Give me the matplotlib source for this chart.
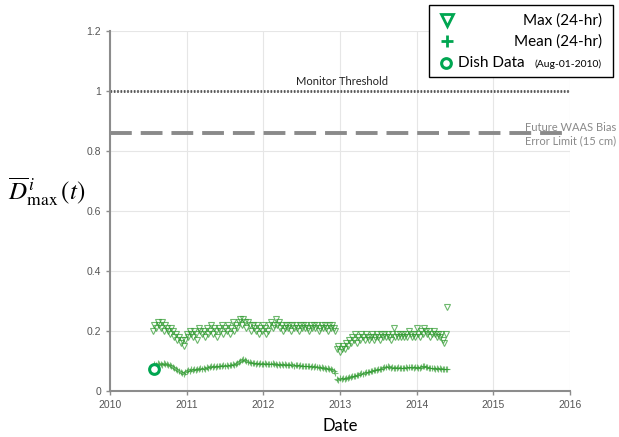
import numpy as np
import matplotlib
matplotlib.use('Agg')
import matplotlib.pyplot as plt
from matplotlib.lines import Line2D
from matplotlib.patches import Rectangle

plt.rcParams['mathtext.fontset'] = 'stix'
plt.rcParams['font.family'] = ['Lato', 'DejaVu Sans']

# 24-hr statistics, one sample every 0.02 yr starting mid 2010
start_year = 2010.56
step_year = 0.02
max_24hr = [
    0.20, 0.22, 0.21, 0.23, 0.22, 0.21, 0.23, 0.20, 0.22, 0.21, 0.20,
    0.19, 0.21, 0.20, 0.18, 0.19, 0.17, 0.18, 0.16, 0.17, 0.15, 0.17,
    0.19, 0.18, 0.20, 0.19, 0.18, 0.20, 0.19, 0.17, 0.21, 0.20, 0.19,
    0.20, 0.18, 0.21, 0.19, 0.20, 0.22, 0.19, 0.21, 0.20, 0.18, 0.21,
    0.20, 0.22, 0.19, 0.21, 0.20, 0.22, 0.19, 0.21, 0.23, 0.20, 0.22,
    0.21, 0.23, 0.24, 0.22, 0.24, 0.23, 0.21, 0.23, 0.22, 0.20, 0.22,
    0.21, 0.20, 0.22, 0.19, 0.21, 0.20, 0.22, 0.21, 0.19, 0.20, 0.22,
    0.23, 0.21, 0.22, 0.24, 0.22, 0.23, 0.21, 0.22, 0.20, 0.21, 0.22,
    0.21, 0.22, 0.20, 0.22, 0.21, 0.22, 0.21, 0.20, 0.22, 0.21, 0.22,
    0.21, 0.22, 0.21, 0.20, 0.22, 0.21, 0.22, 0.21, 0.22, 0.20, 0.21,
    0.22, 0.21, 0.22, 0.21, 0.20, 0.22, 0.21, 0.22, 0.21, 0.20,
    0.14, 0.15, 0.13, 0.14, 0.15, 0.14, 0.16, 0.15, 0.17, 0.16, 0.18,
    0.17, 0.19, 0.16, 0.18, 0.17, 0.19, 0.18, 0.17, 0.19, 0.18, 0.17,
    0.18, 0.19, 0.17, 0.18, 0.19, 0.18, 0.17, 0.19, 0.18, 0.19, 0.18,
    0.19, 0.18, 0.17, 0.19, 0.21, 0.18, 0.19, 0.18, 0.19, 0.18, 0.19,
    0.18, 0.19, 0.18, 0.20, 0.19, 0.18, 0.19, 0.18, 0.21, 0.19, 0.18,
    0.20, 0.19, 0.21, 0.20, 0.19, 0.20, 0.18, 0.19, 0.20, 0.19, 0.18,
    0.19, 0.18, 0.19, 0.17, 0.16, 0.19, 0.28]
mean_24hr = [
    0.085, 0.090, 0.087, 0.092, 0.089, 0.091, 0.088, 0.092, 0.089, 0.090, 0.087,
    0.086, 0.084, 0.080, 0.078, 0.074, 0.070, 0.066, 0.062, 0.060, 0.058, 0.062,
    0.066, 0.070, 0.068, 0.072, 0.070, 0.073, 0.071, 0.075, 0.073, 0.076, 0.074,
    0.077, 0.075, 0.079, 0.078, 0.080, 0.082, 0.080, 0.083, 0.081, 0.084, 0.083,
    0.085, 0.083, 0.086, 0.084, 0.087, 0.085, 0.088, 0.086, 0.089, 0.088, 0.091,
    0.093, 0.096, 0.099, 0.102, 0.106, 0.104, 0.101, 0.098, 0.096, 0.094, 0.092,
    0.093, 0.091, 0.092, 0.090, 0.093, 0.091, 0.089, 0.092, 0.090, 0.091, 0.089,
    0.090, 0.092, 0.089, 0.091, 0.088, 0.090, 0.087, 0.089, 0.088, 0.090, 0.087,
    0.088, 0.086, 0.089, 0.087, 0.085, 0.087, 0.086, 0.084, 0.086, 0.085, 0.083,
    0.085, 0.083, 0.082, 0.084, 0.081, 0.083, 0.080, 0.082, 0.079, 0.081, 0.078,
    0.079, 0.077, 0.078, 0.075, 0.076, 0.074, 0.073, 0.071, 0.068, 0.060,
    0.040, 0.038, 0.042, 0.040, 0.043, 0.041, 0.045, 0.044, 0.047, 0.046, 0.049,
    0.051, 0.050, 0.054, 0.055, 0.057, 0.059, 0.058, 0.061, 0.063, 0.062, 0.065,
    0.067, 0.066, 0.069, 0.071, 0.070, 0.073, 0.075, 0.074, 0.077, 0.079, 0.081,
    0.082, 0.080, 0.078, 0.079, 0.077, 0.078, 0.076, 0.079, 0.077, 0.078, 0.076,
    0.077, 0.079, 0.078, 0.080, 0.079, 0.081, 0.078, 0.080, 0.079, 0.077, 0.078,
    0.080, 0.082, 0.084, 0.081, 0.079, 0.077, 0.078, 0.076, 0.077, 0.075, 0.076,
    0.074, 0.076, 0.073, 0.075, 0.074, 0.073, 0.074]
dish_year = [2010.58]
dish_value = [0.075]

monitor_threshold = 1.0
waas_bias_limit = 0.86

year_ticks = [2010, 2011, 2012, 2013, 2014, 2015, 2016]
d_ticks = [0, 0.2, 0.4, 0.6, 0.8, 1, 1.2]
d_tick_labels = ['0', '0.2', '0.4', '0.6', '0.8', '1', '1.2']

years = start_year + step_year * np.arange(len(max_24hr))

W, H = 619, 437


def px(x, y):
    # pixel position (from top left) -> figure fraction
    return x / W, 1 - y / H


fig = plt.figure(figsize=(W / 100, H / 100), dpi=100)
ax = fig.add_axes([110 / W, 1 - 391 / H, 460 / W, 360 / H])

green = '#2f9a2f'
ax.plot(years, max_24hr, linestyle='none', marker='v', markersize=5,
        markerfacecolor='none', markeredgecolor=green, markeredgewidth=0.8,
        alpha=0.7)
ax.plot(years, mean_24hr, linestyle='none', marker='+', markersize=4.5,
        color=green, markeredgewidth=0.8, alpha=0.65)
ax.plot(dish_year, dish_value, linestyle='none', marker='o', markersize=7,
        markerfacecolor='white', markeredgecolor='#00a651', markeredgewidth=2.2)

ax.axhline(monitor_threshold, color='#555555', lw=2, linestyle=(0, (0.6, 0.6)))
ax.axhline(waas_bias_limit, color='#8a8a8a', lw=2.8, linestyle=(0, (5.6, 2.3)))

ax.text(2013.03, 1.015, 'Monitor Threshold', ha='center', va='bottom',
        fontsize=8, color='#222222')
ax.text(2016.6, 0.855, 'Future WAAS Bias\nError Limit (15 cm)', ha='right',
        va='center', fontsize=8, color='#8a8a8a', linespacing=1.25,
        clip_on=False)

ax.set_xlim(2010, 2016)
ax.set_ylim(0, 1.2)
ax.set_xticks(year_ticks)
ax.set_xticklabels([str(y) for y in year_ticks], family='Liberation Sans')
ax.set_yticks(d_ticks)
ax.set_yticklabels(d_tick_labels, family='Liberation Sans')
ax.tick_params(labelsize=7.5, colors='#555555', length=3, width=1,
               color='#8c8c8c')
ax.grid(True, color='#e6e6e6', lw=0.8)
ax.set_axisbelow(True)
for side in ('top', 'right'):
    ax.spines[side].set_visible(False)
for side in ('left', 'bottom'):
    ax.spines[side].set_color('#8c8c8c')
    ax.spines[side].set_linewidth(1.5)

ax.set_xlabel('Date', fontsize=12, labelpad=6)
fig.text(*px(47, 192), r'$\overline{D}^{\,i}_{\mathrm{max}}\,\left(t\right)$',
         fontsize=18, ha='center', va='center')

# legend box drawn by hand so labels can sit right-aligned
fig.add_artist(Rectangle(px(429, 77), 184 / W, 72 / H,
                         transform=fig.transFigure, facecolor='white',
                         edgecolor='black', lw=1))
leg_green = '#00a651'
fig.add_artist(Line2D(*zip(px(447, 20)), transform=fig.transFigure,
                      marker='v', markersize=8, markerfacecolor='none',
                      markeredgecolor=leg_green, markeredgewidth=2,
                      linestyle='none'))
fig.add_artist(Line2D(*zip(px(447, 41)), transform=fig.transFigure,
                      marker='+', markersize=8, color=leg_green,
                      markeredgewidth=2, linestyle='none'))
fig.add_artist(Line2D(*zip(px(446, 63)), transform=fig.transFigure,
                      marker='o', markersize=7, markerfacecolor='white',
                      markeredgecolor=leg_green, markeredgewidth=2.2,
                      linestyle='none'))
fig.text(*px(602, 21), 'Max (24-hr)', ha='right', va='center', fontsize=11)
fig.text(*px(602, 42), 'Mean (24-hr)', ha='right', va='center', fontsize=11)
fig.text(*px(458, 63), 'Dish Data', ha='left', va='center', fontsize=11)
fig.text(*px(602, 64), '(Aug-01-2010)', ha='right', va='center', fontsize=7.5)

fig.savefig('out.png', dpi=100)
